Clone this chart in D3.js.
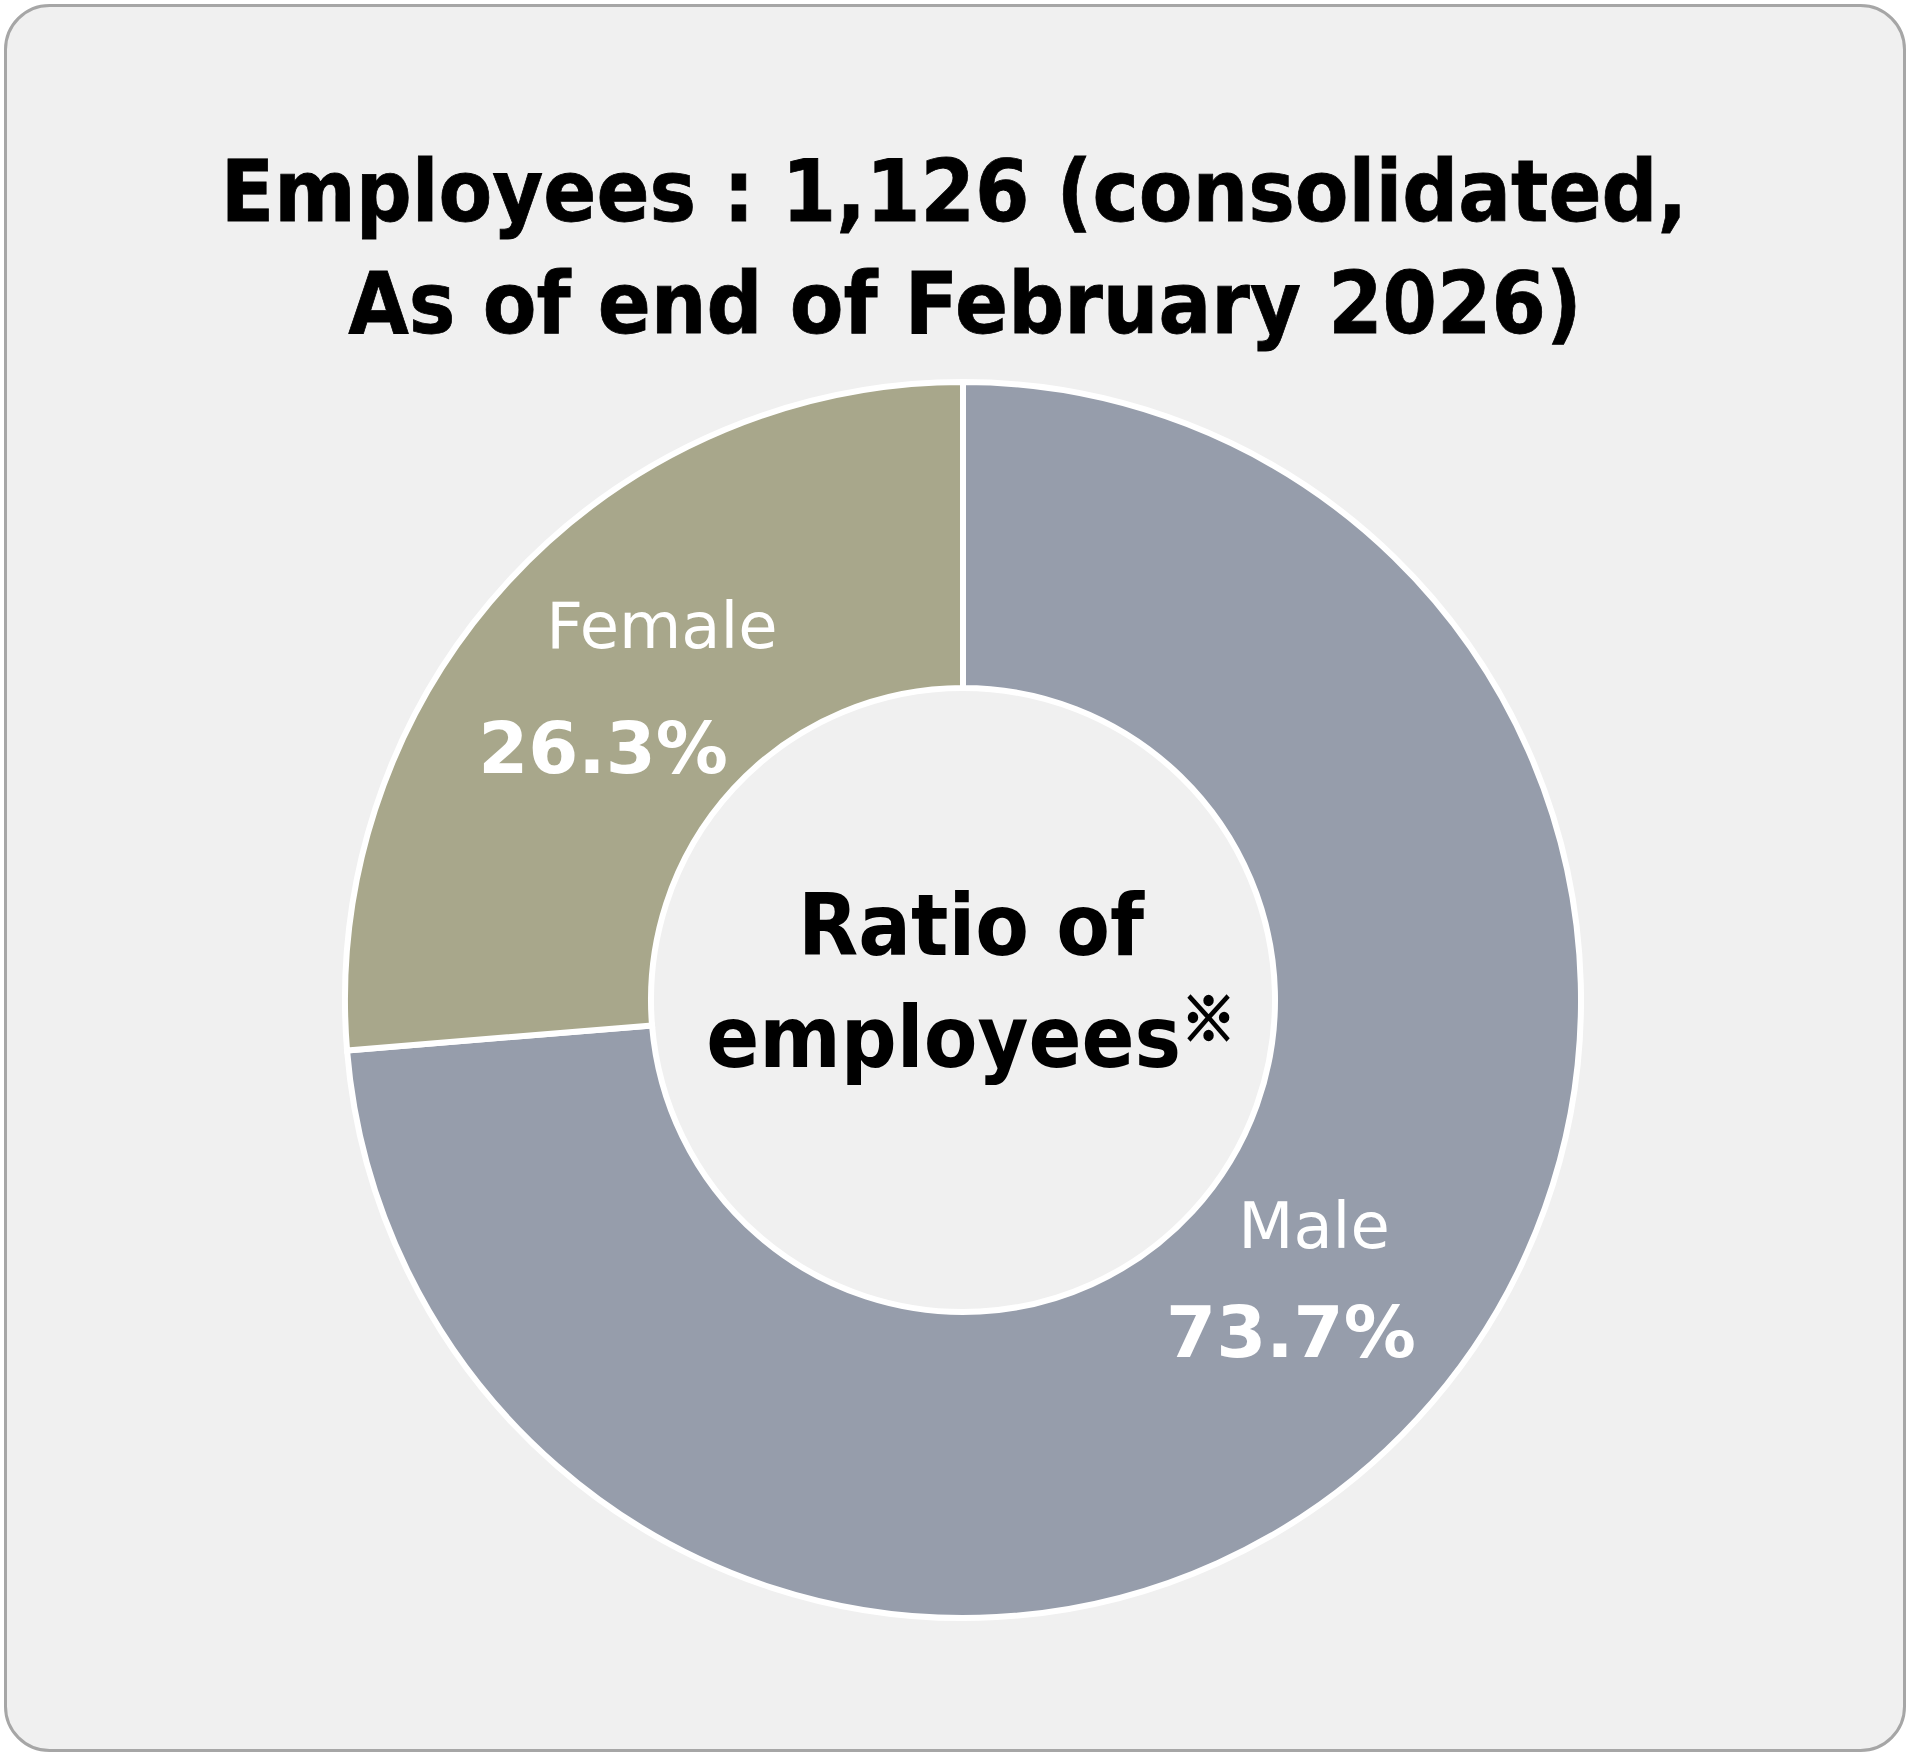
<!DOCTYPE html>
<html>
<head>
<meta charset="utf-8">
<script src="https://cdn.jsdelivr.net/npm/d3@7"></script>
<style>
    body { margin: 0; background: #fff; }
    svg { display: block; }
</style>
</head>
<body>
<div id="chart"></div>
<script>
// data
var genders = ["Male", "Female"];
var ratios = [73.7, 26.3];
var sliceColors = ["#969dab", "#a8a78b"];
var titleLines = ["Employees : 1,126 (consolidated,", "As of end of February 2026)"];
var centerLines = ["Ratio of", "employees"];
var footMark = "※";

var width = 1911,
    height = 1755,
    cx = 963,
    cy = 1000,
    outerR = 618,
    innerR = 312,
    labelR = 465,
    squeeze = 0.91; // title font is a condensed face, DejaVu is wider

// per-label nudges off the arc centroid
var nudge = {
    Male:   {name: [9, -67], pct: [-14, 42]},
    Female: {name: [41, -37], pct: [-18, 88]}
};

var svg = d3.select("#chart").append("svg")
    .attr("width", width)
    .attr("height", height);

svg.append("rect")
    .attr("x", 5.5)
    .attr("y", 5.5)
    .attr("width", 1899)
    .attr("height", 1745)
    .attr("rx", 44)
    .attr("ry", 44)
    .style("fill", "#f0f0f0")
    .style("stroke", "#a6a6a6")
    .style("stroke-width", 3);

// title
var titleY = [221, 333],
    titleX = [954, 965];
svg.selectAll(".title")
    .data(titleLines)
    .enter().append("text")
    .attr("class", "title")
    .attr("transform", function (d, i) {
        return "translate(" + titleX[i] + "," + titleY[i] + ") scale(" + squeeze + ",1)";
    })
    .style("text-anchor", "middle")
    .style("font-family", "DejaVu Sans")
    .style("font-weight", "bold")
    .style("font-size", "86px")
    .style("fill", "#000")
    .style("stroke", "#000")
    .style("stroke-width", 0.8)
    .text(function (d) { return d; });

var pie = d3.pie().sort(null).value(function (d) { return d; });
var arc = d3.arc().innerRadius(innerR).outerRadius(outerR);
var labelArc = d3.arc().innerRadius(labelR).outerRadius(labelR);

var g = svg.append("g")
    .attr("transform", "translate(" + cx + "," + cy + ")");

var slices = pie(ratios);

g.selectAll(".slice")
    .data(slices)
    .enter().append("path")
    .attr("class", "slice")
    .attr("d", arc)
    .style("fill", function (d, i) { return sliceColors[i]; })
    .style("stroke", "#fff")
    .style("stroke-width", 6);

var labels = g.selectAll(".lbl")
    .data(slices)
    .enter().append("g")
    .attr("class", "lbl")
    .attr("transform", function (d) {
        return "translate(" + labelArc.centroid(d) + ")";
    });

labels.append("text")
    .attr("x", function (d, i) { return nudge[genders[i]].name[0]; })
    .attr("y", function (d, i) { return nudge[genders[i]].name[1]; })
    .style("text-anchor", "middle")
    .style("font-family", "DejaVu Sans")
    .style("font-size", "64px")
    .style("fill", "#fff")
    .text(function (d, i) { return genders[i]; });

labels.append("text")
    .attr("x", function (d, i) { return nudge[genders[i]].pct[0]; })
    .attr("y", function (d, i) { return nudge[genders[i]].pct[1]; })
    .style("text-anchor", "middle")
    .style("font-family", "DejaVu Sans")
    .style("font-weight", "bold")
    .style("font-size", "72px")
    .style("fill", "#fff")
    .text(function (d) { return d.data.toFixed(1) + "%"; });

// centre text
var centerY = [955, 1067];
var ct = svg.selectAll(".center")
    .data(centerLines)
    .enter().append("text")
    .attr("class", "center")
    .attr("transform", function (d, i) {
        return "translate(971," + centerY[i] + ") scale(" + squeeze + ",1)";
    })
    .style("text-anchor", "middle")
    .style("font-family", "DejaVu Sans")
    .style("font-weight", "bold")
    .style("font-size", "86px")
    .style("fill", "#000");

ct.append("tspan").text(function (d) { return d; });
ct.filter(function (d, i) { return i === 1; })
    .append("tspan")
    .attr("dy", -26)
    .style("font-family", "'Noto Sans CJK JP'")
    .style("font-weight", "bold")
    .style("font-size", "60px")
    .style("stroke", "#000")
    .style("stroke-width", 2.5)
    .text(footMark);
</script>
</body>
</html>
